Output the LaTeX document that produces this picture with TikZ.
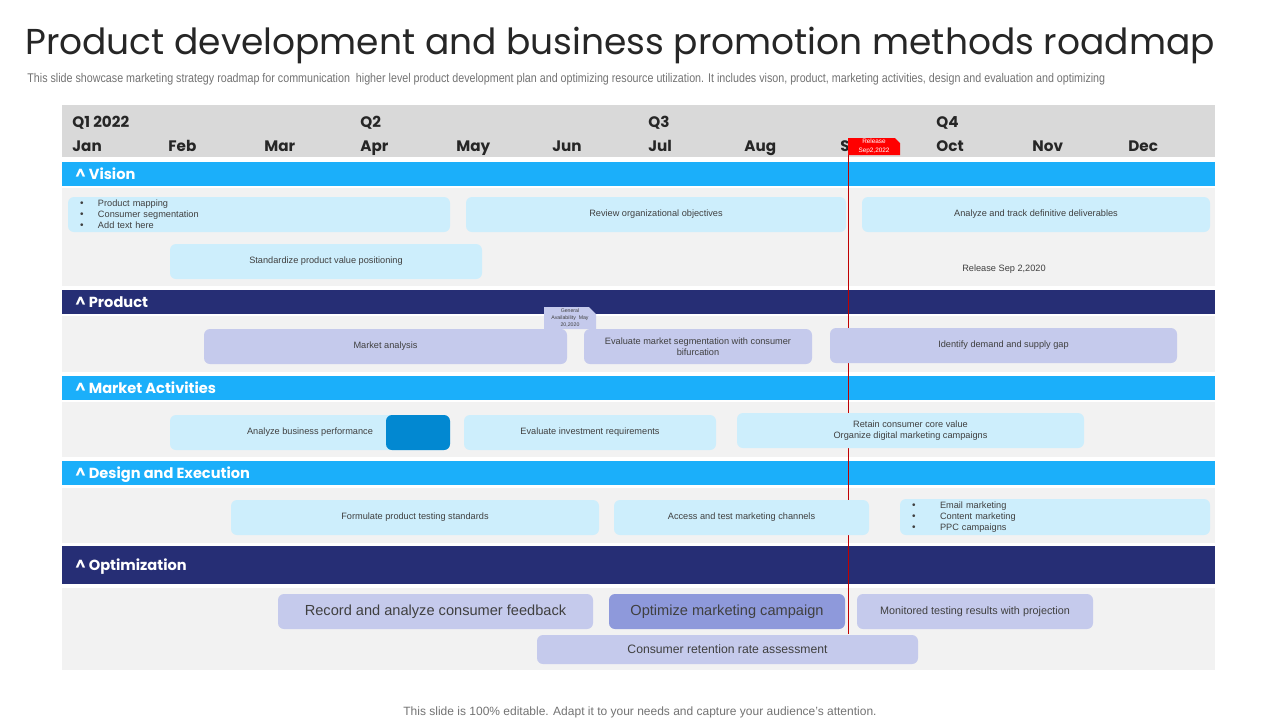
\documentclass[tikz,border=0pt]{standalone}
\usepackage{fontspec}
\setmainfont{Liberation Sans}
\newfontfamily\headfont{Poppins}
\newfontfamily\narrowfont[FakeStretch=0.85]{Liberation Sans}
\definecolor{barblue}{RGB}{27,175,250}
\definecolor{barnavy}{RGB}{38,46,117}
\definecolor{boxblue}{RGB}{205,238,252}
\definecolor{boxlav}{RGB}{197,202,236}
\definecolor{boxlavdk}{RGB}{142,153,219}
\definecolor{deepblue}{RGB}{2,136,209}
\definecolor{bandgray}{RGB}{242,242,242}
\definecolor{headgray}{RGB}{217,217,217}
\definecolor{txtgray}{RGB}{64,64,64}
\definecolor{relred}{RGB}{192,0,0}
\begin{document}
\begin{tikzpicture}[x=0.5pt,y=-0.5pt,
    task/.style={rounded corners=3pt,inner sep=0pt,align=center,text=txtgray,
      font=\fontsize{4.6}{5.5}\selectfont,minimum height=17.5pt},
    lbox/.style={task,fill=boxblue},
    lavbox/.style={task,fill=boxlav},
    head/.style={anchor=base west,inner sep=0pt,text=black!85,font=\headfont\bfseries\fontsize{7.6}{9}\selectfont},
    barlabel/.style={head,text=white,font=\headfont\bfseries\fontsize{7.3}{9}\selectfont},
    bullet/.style={align=left,inner xsep=6pt,text width=#1}]
  \useasboundingbox[fill=white] (0,0) rectangle (1280,720);
  % title and notes
  \node[inner sep=0pt,text=black!85,font=\headfont\fontsize{18}{21}\selectfont] (title) at (620,45) {Product development and business promotion methods roadmap};
  \node[anchor=west,inner sep=0pt,text=black!55,font=\narrowfont\fontsize{6.3}{7}\selectfont] (sub) at (27,79) {This slide showcase marketing strategy roadmap for communication\ \ higher level product development plan and optimizing resource utilization. It includes vison, product, marketing activities, design and evaluation and optimizing};
  \node[inner sep=0pt,text=black!55,font=\fontsize{6}{7}\selectfont] (foot) at (640,712) {This slide is 100\% editable. Adapt it to your needs and capture your audience's attention.};
  % header band
  \fill[headgray] (62,105) rectangle (1215,157);
  \foreach \q [count=\i from 0] in {Q1 2022,Q2,Q3,Q4}
    \node[head] (q\i) at (72+288*\i,127) {\q};
  \foreach \m [count=\i from 0] in {Jan,Feb,Mar,Apr,May,Jun,Jul,Aug,Sep,Oct,Nov,Dec}
    \node[head] (m\i) at (72+96*\i,151) {\m};
  % section areas and bars
  \fill[bandgray] (62,188) rectangle (1215,286);
  \fill[bandgray] (62,316) rectangle (1215,372);
  \fill[bandgray] (62,402) rectangle (1215,457);
  \fill[bandgray] (62,488) rectangle (1215,543);
  \fill[bandgray] (62,588) rectangle (1215,670);
  \fill[barblue] (62,162) rectangle (1215,186);
  \fill[barnavy] (62,290) rectangle (1215,314);
  \fill[barblue] (62,376) rectangle (1215,400);
  \fill[barblue] (62,461) rectangle (1215,485);
  \fill[barnavy] (62,546) rectangle (1215,584);
  \node[barlabel] (vision) at (75,179) {\textasciicircum\ Vision};
  \node[barlabel] (product) at (75,307) {\textasciicircum\ Product};
  \node[barlabel] (market) at (75,393) {\textasciicircum\ Market Activities};
  \node[barlabel] (design) at (75,478) {\textasciicircum\ Design and Execution};
  \node[barlabel] (optim) at (75,570) {\textasciicircum\ Optimization};
  % release line
  \coordinate (reltop) at (848,138);
  \coordinate (relbot) at (848,634);
  \draw[relred,line width=0.5pt] (reltop) -- (relbot);
  % vision
  \node[lbox,bullet=179pt,minimum width=191pt] (vis1) at (259,214.5) {\makebox[9pt][l]{\tiny•}Product mapping\\\makebox[9pt][l]{\tiny•}Consumer segmentation\\\makebox[9pt][l]{\tiny•}Add text here};
  \node[lbox,minimum width=190pt] (vis2) at (656,214.5) {Review organizational objectives};
  \node[lbox,minimum width=174pt] (vis3) at (1036,214.5) {Analyze and track definitive deliverables};
  \node[lbox,minimum width=156pt] (vis4) at (326,261.5) {Standardize product value positioning};
  \node[inner sep=0pt,text=txtgray,font=\fontsize{4.6}{5.5}\selectfont] (visrel) at (1004,269) {Release Sep 2,2020};
  % product
  \node[lavbox,minimum width=181.5pt] (prd1) at (385.5,346.5) {Market analysis};
  \node[lavbox,minimum width=114pt] (prd2) at (698,346.5) {Evaluate market segmentation with consumer\\bifurcation};
  \node[lavbox,minimum width=173.5pt] (prd3) at (1003.5,345.5) {Identify demand and supply gap};
  \fill[boxlav] (544,307) -- (589,307) -- (596,314) -- (596,329) -- (544,329) -- cycle;
  \node[inner sep=0pt,align=center,text=txtgray,font=\fontsize{2.6}{3.4}\selectfont] (gatag) at (570,318) {General\\Availability\ \ May\\20,2020};
  % market activities
  \node[lbox,minimum width=140pt] (mkt1) at (310,432.5) {Analyze business performance};
  \node[task,fill=deepblue,minimum width=32pt] (mkt1b) at (418,432.5) {};
  \node[lbox,minimum width=126pt] (mkt2) at (590,432.5) {Evaluate investment requirements};
  \node[lbox,minimum width=173.5pt] (mkt3) at (910.5,430.5) {Retain consumer core value\\Organize digital marketing campaigns};
  % design and execution
  \node[lbox,minimum width=184pt] (des1) at (415,517.5) {Formulate product testing standards};
  \node[lbox,minimum width=127.5pt] (des2) at (741.5,517.5) {Access and test marketing channels};
  \node[lbox,bullet=143pt,minimum width=155pt,minimum height=18pt] (des3) at (1055,517) {\makebox[14pt][l]{\tiny•}Email marketing\\\makebox[14pt][l]{\tiny•}Content marketing\\\makebox[14pt][l]{\tiny•}PPC campaigns};
  % optimization
  \node[lavbox,minimum width=157.5pt,font=\fontsize{7.3}{8.5}\selectfont] (opt1) at (435.5,611.5) {Record and analyze consumer feedback};
  \node[task,fill=boxlavdk,minimum width=118pt,font=\fontsize{7.3}{8.5}\selectfont] (opt2) at (727,611.5) {Optimize marketing campaign};
  \node[lavbox,minimum width=118pt,font=\fontsize{5.4}{6.5}\selectfont] (opt3) at (975,611.5) {Monitored testing results with projection};
  \node[lavbox,minimum width=190.5pt,minimum height=14.5pt,font=\fontsize{6.1}{7}\selectfont] (opt4) at (727.5,649.5) {Consumer retention rate assessment};
  % release tag
  \fill[red] (reltop) -- (895,138) -- (900,143) -- (900,155) -- (848,155) -- cycle;
  \node[inner sep=0pt,align=center,text=white,font=\fontsize{3.2}{4.2}\selectfont] (reltag) at (874,146.5) {Release\\Sep2,2022};
\end{tikzpicture}
\end{document}
